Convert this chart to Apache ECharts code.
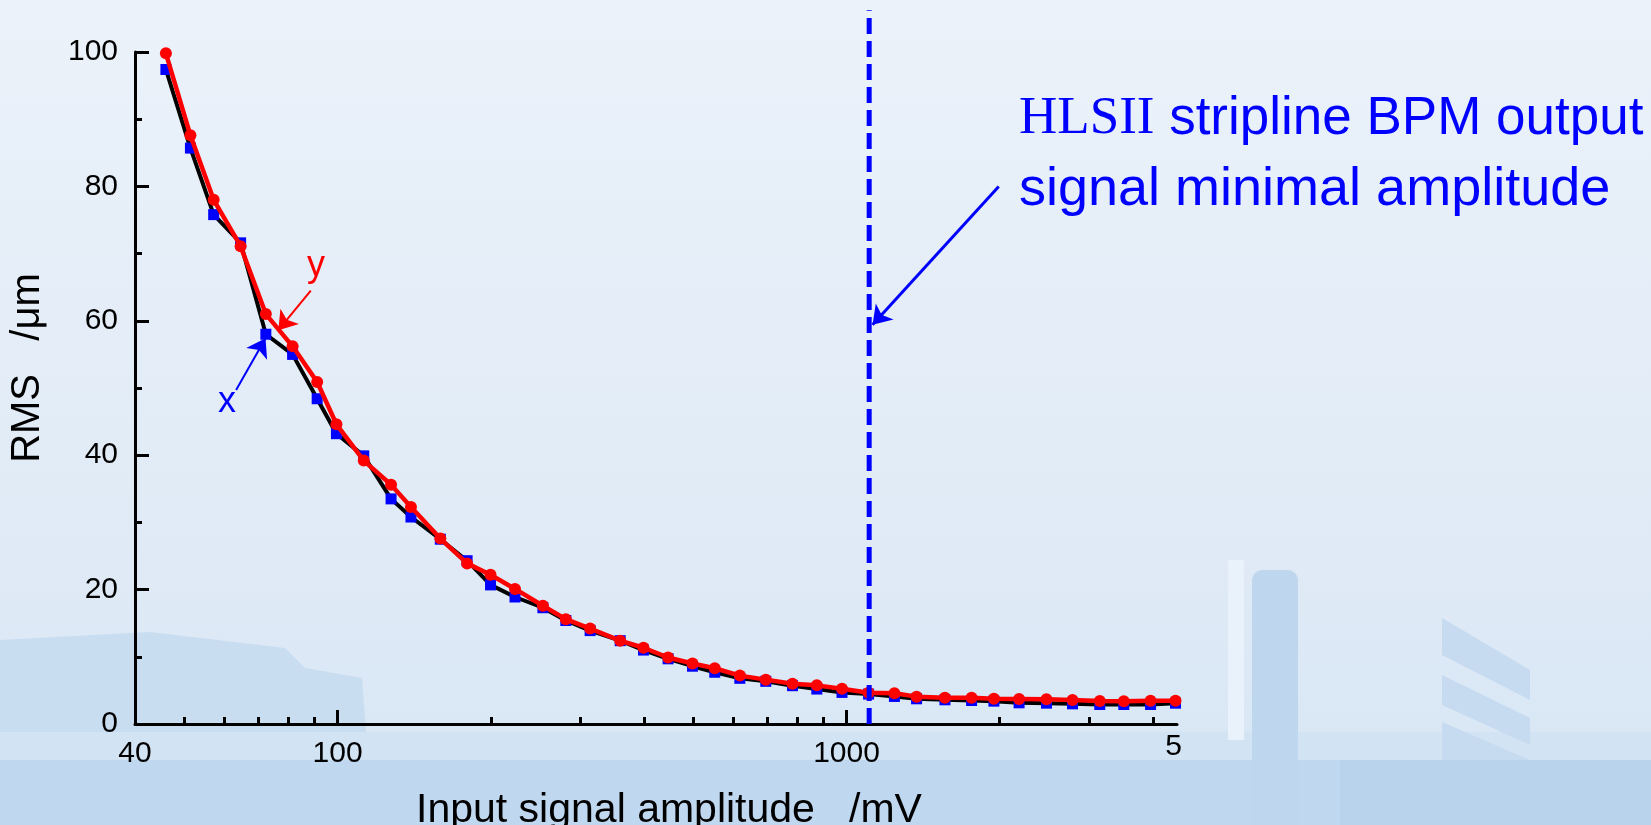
<!DOCTYPE html>
<html>
<head>
<meta charset="utf-8">
<title>RMS vs input signal amplitude</title>
<script src="https://cdn.jsdelivr.net/npm/echarts@6/dist/echarts.min.js"></script>
<style>
  html, body { margin: 0; padding: 0; background: #e6eff9; }
  #chart { width: 1651px; height: 825px; }
</style>
</head>
<body>
<div id="chart"></div>
<script>
// input signal amplitude, mV (1 dB steps)
var amplitude = [46, 51.4, 57.1, 64.5, 72.3, 81.6, 91.2, 99.5, 112.6, 127.4, 139.4, 159.2, 179.7, 199.8,
  223.2, 253.2, 280.9, 313.5, 359.2, 399.1, 446.1, 498.2, 551, 617.2, 694.1, 783.2, 874.4, 979.8,
  1105, 1242, 1373, 1561, 1761, 1948, 2183, 2471, 2780, 3145, 3506, 3957, 4430];
// RMS position jitter, um
var rmsX = [97.4, 85.7, 75.8, 71.6, 58.0, 55.0, 48.4, 43.2, 39.9, 33.5, 30.8, 27.5, 24.3, 20.7,
  18.9, 17.3, 15.4, 13.9, 12.4, 11.0, 9.7, 8.6, 7.7, 6.8, 6.35, 5.7, 5.2, 4.7,
  4.45, 4.1, 3.75, 3.6, 3.5, 3.4, 3.15, 3.1, 3.0, 2.9, 2.9, 2.9, 3.1];
var rmsY = [99.8, 87.6, 78.0, 71.1, 61.0, 56.2, 50.9, 44.6, 39.2, 35.6, 32.3, 27.6, 23.9, 22.2,
  20.1, 17.6, 15.6, 14.2, 12.4, 11.35, 9.9, 9.0, 8.3, 7.2, 6.6, 6.0, 5.75, 5.25,
  4.65, 4.57, 4.07, 3.92, 3.92, 3.75, 3.72, 3.67, 3.57, 3.42, 3.38, 3.47, 3.47];

// axis ticks / labels
var xLabelValues = [40, 100, 1000];
var xMajorTicks = [100, 1000];
var xMinorTicks = [50, 60, 70, 80, 90, 200, 300, 400, 500, 600, 700, 800, 900, 2000, 3000, 4000];

// HLSII stripline BPM minimal output amplitude, mV
var minAmplitude = 1108;
var minLineTop = 106.2;

// annotation arrows [from, to] in data units
var arrowX = [[63.2, 49.7], [72.2, 57.4]];
var arrowY = [[88.6, 64.5], [76.5, 58.6]];
var arrowMin = [[1991, 80.0], [1125, 59.4]];

var sans = '"Liberation Sans", Arial, sans-serif';
var serif = '"Liberation Serif", "Times New Roman", serif';

var myChart = echarts.init(document.getElementById('chart'));

function pairs(xs, ys) {
  return xs.map(function (v, i) { return [v, ys[i]]; });
}

function arrow(a, color, width) {
  return [
    { coord: a[0], lineStyle: { color: color, width: width, type: 'solid' } },
    { coord: a[1] }
  ];
}

myChart.setOption({
  animation: false,
  grid: { left: 135, top: 52, width: 1042, height: 672, outerBoundsMode: 'none' },
  xAxis: [
    {
      type: 'log',
      logBase: 10,
      min: 40,
      max: 4460,
      name: 'Input signal amplitude   /mV',
      nameLocation: 'middle',
      nameGap: 66,
      nameTextStyle: { fontSize: 41, fontFamily: sans, color: '#000', padding: [0, 0, 0, 26] },
      axisLine: { lineStyle: { color: '#000', width: 3 } },
      axisTick: { inside: true, length: 14, customValues: xMajorTicks, lineStyle: { color: '#000', width: 3 } },
      axisLabel: {
        customValues: xLabelValues, fontSize: 30, fontFamily: sans, color: '#000', margin: 15,
        formatter: function (v) { return String(Math.round(v)); }
      },
      splitLine: { show: false }
    },
    {
      type: 'log',
      logBase: 10,
      min: 40,
      max: 4460,
      position: 'bottom',
      axisLine: { show: false },
      axisTick: { inside: true, length: 7, customValues: xMinorTicks, lineStyle: { color: '#000', width: 3 } },
      axisLabel: { show: false },
      splitLine: { show: false }
    }
  ],
  yAxis: {
    type: 'value',
    min: 0,
    max: 100,
    interval: 20,
    name: 'RMS   /\u03bcm',
    nameLocation: 'middle',
    nameRotate: 90,
    nameGap: 87,
    nameTextStyle: { fontSize: 40, fontFamily: sans, color: '#000', padding: [0, 0, 0, 40] },
    axisLine: { show: true, lineStyle: { color: '#000', width: 3 } },
    axisTick: { show: true, inside: true, length: 14, lineStyle: { color: '#000', width: 3 } },
    minorTick: { show: true, splitNumber: 2, length: 7, lineStyle: { color: '#000', width: 3 } },
    axisLabel: { fontSize: 30, fontFamily: sans, color: '#000', margin: 17 },
    splitLine: { show: false },
    minorSplitLine: { show: false }
  },
  graphic: [
    {
      type: 'rect', z: -100, silent: true,
      shape: { x: 0, y: 0, width: 1651, height: 825 },
      style: {
        fill: new echarts.graphic.LinearGradient(0, 0, 0, 1, [
          { offset: 0, color: '#ebf2fa' },
          { offset: 0.7, color: '#dfeaf6' },
          { offset: 1, color: '#d6e5f4' }
        ])
      }
    },
    { type: 'polygon', z: -99, silent: true,
      shape: { points: [[0, 640], [150, 632], [285, 648], [305, 668], [362, 678], [366, 732], [0, 732]] },
      style: { fill: '#c9ddf1' } },
    { type: 'rect', z: -99, silent: true,
      shape: { x: 0, y: 732, width: 1651, height: 30 }, style: { fill: '#d2e3f4' } },
    { type: 'rect', z: -99, silent: true,
      shape: { x: 0, y: 760, width: 1651, height: 65 }, style: { fill: '#bfd7ef' } },
    { type: 'rect', z: -98, silent: true,
      shape: { x: 1252, y: 570, width: 46, height: 255, r: [10, 10, 0, 0] }, style: { fill: '#bed7ef' } },
    { type: 'rect', z: -98, silent: true,
      shape: { x: 1228, y: 560, width: 16, height: 180 }, style: { fill: '#e9f1fa' } },
    { type: 'polygon', z: -98, silent: true,
      shape: { points: [[1442, 618], [1530, 670], [1530, 700], [1442, 655]] }, style: { fill: '#c6dbf0' } },
    { type: 'polygon', z: -98, silent: true,
      shape: { points: [[1442, 675], [1530, 718], [1530, 745], [1442, 705]] }, style: { fill: '#c6dbf0' } },
    { type: 'polygon', z: -98, silent: true,
      shape: { points: [[1442, 722], [1530, 760], [1530, 790], [1442, 760]] }, style: { fill: '#c6dbf0' } },
    { type: 'rect', z: -98, silent: true,
      shape: { x: 1340, y: 760, width: 311, height: 65 }, style: { fill: '#bad3ed' } },

    // annotation text
    {
      type: 'text', z: 10, silent: true,
      style: {
        x: 1019, y: 119, text: '{s|HLSII} stripline BPM output',
        font: '53px ' + sans, fill: '#0000ff',
        textAlign: 'left', align: 'left', textVerticalAlign: 'middle', verticalAlign: 'middle',
        rich: { s: { font: '53px ' + serif, fill: '#0000ff' } }
      }
    },
    {
      type: 'text', z: 10, silent: true,
      style: {
        x: 1019, y: 190, text: 'signal minimal amplitude',
        font: '54px ' + sans, fill: '#0000ff',
        textAlign: 'left', align: 'left', textVerticalAlign: 'middle', verticalAlign: 'middle'
      }
    },
    {
      type: 'text', z: 10, silent: true,
      style: {
        x: 227, y: 402, text: 'x', font: '36px ' + sans, fill: '#0000ff',
        textAlign: 'center', align: 'center', textVerticalAlign: 'middle', verticalAlign: 'middle'
      }
    },
    {
      type: 'text', z: 10, silent: true,
      style: {
        x: 316, y: 266, text: 'y', font: '36px ' + sans, fill: '#ff0000',
        textAlign: 'center', align: 'center', textVerticalAlign: 'middle', verticalAlign: 'middle'
      }
    },
    // clipped "5000" label at the right edge
    {
      type: 'text', z: 10, silent: true,
      style: {
        x: 1182, y: 747, text: '5', font: '30px ' + sans, fill: '#000',
        textAlign: 'right', align: 'right', textVerticalAlign: 'middle', verticalAlign: 'middle'
      }
    }
  ],
  series: [
    {
      name: 'x',
      type: 'line',
      data: pairs(amplitude, rmsX),
      symbol: 'rect',
      symbolSize: 11,
      itemStyle: { color: '#0000ff' },
      lineStyle: { color: '#000', width: 4 },
      z: 3
    },
    {
      name: 'y',
      type: 'line',
      data: pairs(amplitude, rmsY),
      symbol: 'circle',
      symbolSize: 12,
      itemStyle: { color: '#ff0000' },
      lineStyle: { color: '#ff0000', width: 4.5 },
      z: 4
    },
    {
      name: 'HLSII minimal amplitude',
      type: 'line',
      data: [[minAmplitude, 0], [minAmplitude, minLineTop]],
      clip: false,
      symbol: 'none',
      lineStyle: { color: '#0000ff', width: 5, type: [16, 7] },
      z: 5,
      markLine: {
        silent: true,
        symbol: ['none', 'arrow'],
        symbolSize: 18,
        label: { show: false },
        data: [
          arrow(arrowX, '#0000ff', 2),
          arrow(arrowY, '#ff0000', 2),
          arrow(arrowMin, '#0000ff', 3)
        ]
      }
    }
  ]
});
</script>
</body>
</html>
